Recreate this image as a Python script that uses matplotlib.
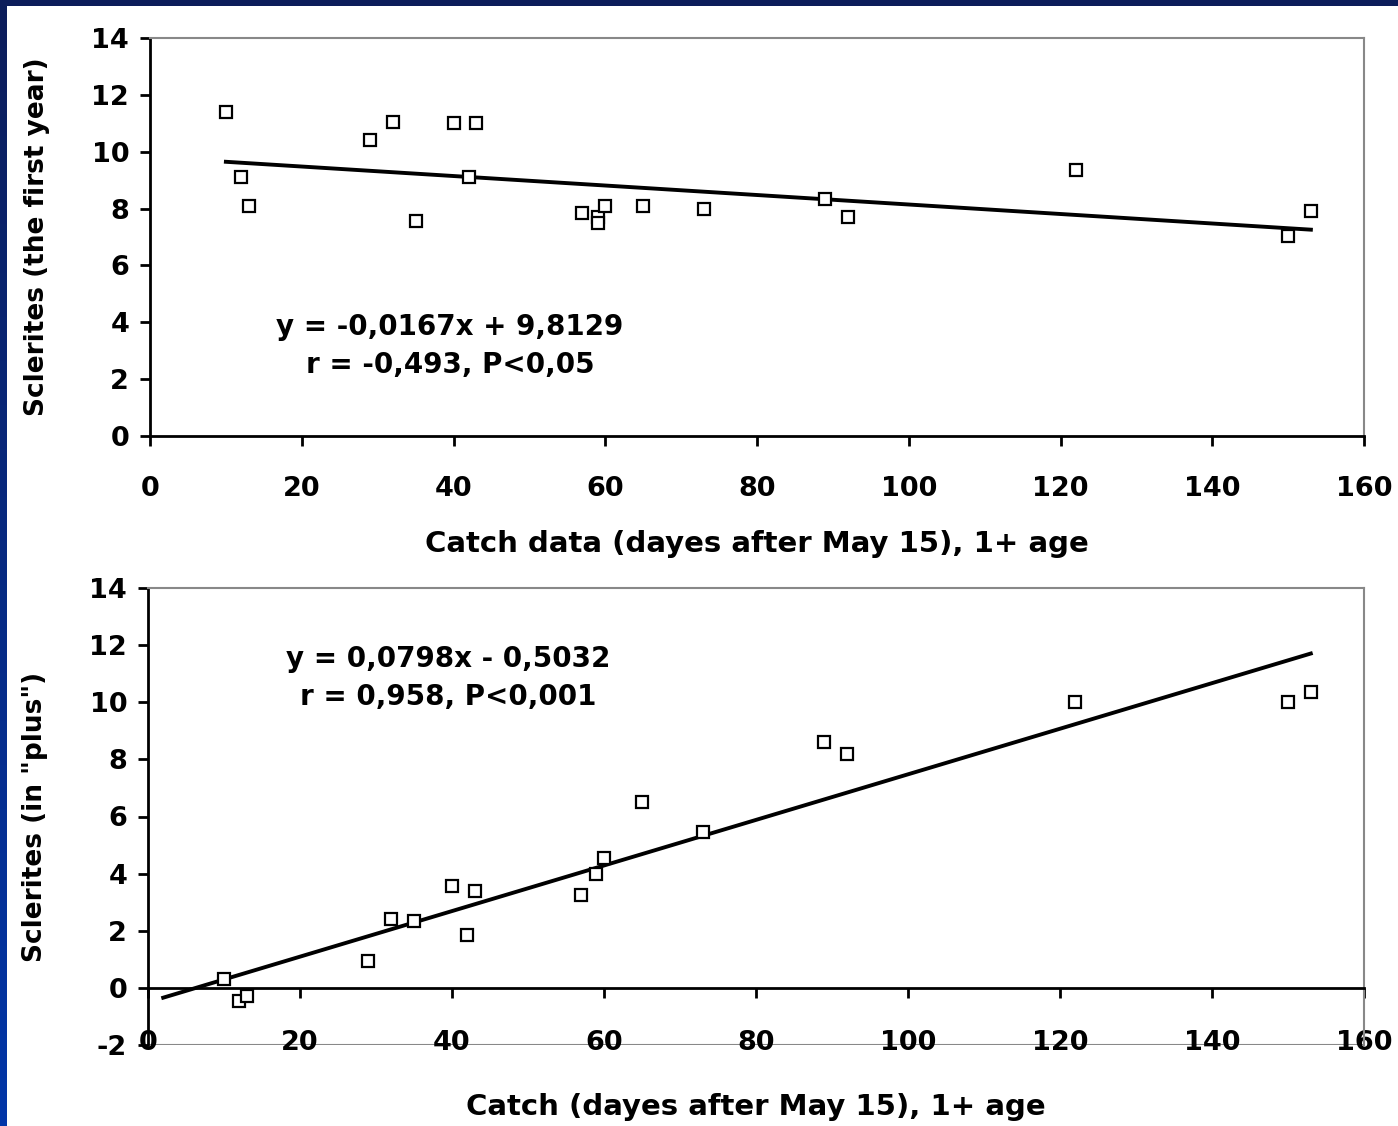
import matplotlib.pyplot as plt
import numpy as np
from matplotlib.colors import LinearSegmentedColormap

# catch day (days after May 15) and sclerite counts
days_top = [10, 12, 13, 29, 32, 35, 40, 42, 43, 57, 59, 59, 60, 65, 73, 89, 92, 122, 150, 153]
scl_first = [11.4, 9.1, 8.1, 10.4, 11.05, 7.55, 11.0, 9.1, 11.0, 7.85, 7.7, 7.5, 8.1, 8.1, 8.0, 8.35, 7.7, 9.35, 7.05, 7.9]

days_bot = [10, 12, 13, 29, 32, 35, 40, 42, 43, 57, 59, 60, 65, 73, 89, 92, 122, 150, 153]
scl_plus = [0.3, -0.45, -0.3, 0.95, 2.4, 2.35, 3.55, 1.85, 3.4, 3.25, 4.0, 4.55, 6.5, 5.45, 8.6, 8.2, 10.0, 10.0, 10.35]

# trend lines from the equations on the slide
fit_top = (-0.0167, 9.8129)
fit_bot = (0.0798, -0.5032)
fit_top_x = [10, 153]
fit_bot_x = [2, 153]

xticks = [0, 20, 40, 60, 80, 100, 120, 140, 160]

plt.rcParams['font.family'] = ['DejaVu Sans']
plt.rcParams['axes.unicode_minus'] = False

fig = plt.figure(figsize=(13.98, 11.26), dpi=100)
fig.patch.set_facecolor('white')

# blue slide frame on the left and top
grad = np.linspace(0, 1, 256).reshape(-1, 1)
frame_cmap = LinearSegmentedColormap.from_list('frame', ['#0c1d5a', '#0236a8'])
axl = fig.add_axes([0, 0, 7 / 1398, 1])
axl.imshow(grad, aspect='auto', cmap=frame_cmap, extent=[0, 1, 0, 1])
axl.axis('off')
axt = fig.add_axes([0, 1 - 6 / 1126, 1, 6 / 1126])
axt.set_facecolor('#0c1d5a')
axt.set_xticks([]); axt.set_yticks([])
for s in axt.spines.values():
    s.set_visible(False)

TICK_FS = 19.5
YLABEL_FS = 19
XLABEL_FS = 21
EQ_FS = 20


def style(ax, yticks):
    ax.set_xlim(0, 160)
    ax.set_xticks(xticks)
    ax.set_xticklabels([str(t) for t in xticks], fontsize=TICK_FS, fontweight='bold')
    ax.set_yticks(yticks)
    ax.set_yticklabels([str(t) for t in yticks], fontsize=TICK_FS, fontweight='bold')
    ax.spines['left'].set_color('black')
    ax.spines['left'].set_linewidth(2)
    ax.spines['bottom'].set_color('black')
    ax.spines['bottom'].set_linewidth(2)
    ax.spines['top'].set_color('#888888')
    ax.spines['right'].set_color('#888888')
    ax.spines['top'].set_linewidth(1.5)
    ax.spines['right'].set_linewidth(1.5)
    ax.tick_params(direction='out', length=7, width=2, color='black')
    ax.tick_params(axis='y', pad=8)


# top panel
ax1 = fig.add_axes([150 / 1398, 1 - 436 / 1126, 1214 / 1398, 398 / 1126])
ax1.plot(days_top, scl_first, 's', mfc='white', mec='black', ms=8.5, mew=1.6, zorder=3)
xs = np.array(fit_top_x)
ax1.plot(xs, fit_top[0] * xs + fit_top[1], color='black', lw=2.8, zorder=2)
ax1.set_ylim(0, 14)
style(ax1, list(range(0, 15, 2)))
ax1.tick_params(axis='x', pad=22)
ax1.set_ylabel('Sclerites (the first year)', labelpad=30, fontsize=YLABEL_FS, fontweight='bold')
ax1.set_xlabel('Catch data (dayes after May 15), 1+ age', labelpad=20, fontsize=XLABEL_FS, fontweight='bold')
ax1.text(0.247, 0.226, 'y = -0,0167x + 9,8129\nr = -0,493, P<0,05', transform=ax1.transAxes,
         ha='center', va='center', fontsize=EQ_FS, fontweight='bold', linespacing=1.45)

# bottom panel
ax2 = fig.add_axes([148 / 1398, 1 - 1045 / 1126, 1216 / 1398, 457 / 1126])
ax2.plot(days_bot, scl_plus, 's', mfc='white', mec='black', ms=8.5, mew=1.6, zorder=3, clip_on=False)
xs = np.array(fit_bot_x)
ax2.plot(xs, fit_bot[0] * xs + fit_bot[1], color='black', lw=2.8, zorder=2)
ax2.set_ylim(-2, 14)
ax2.spines['bottom'].set_position(('data', 0))
style(ax2, list(range(-2, 15, 2)))
ax2.axhline(-2, color='#888888', lw=1.5, zorder=1)
ax2.tick_params(axis='x', pad=23)
ax2.set_ylabel('Sclerites (in "plus")', labelpad=30, fontsize=YLABEL_FS, fontweight='bold')
ax2.set_xlabel('Catch (dayes after May 15), 1+ age', labelpad=27, fontsize=XLABEL_FS, fontweight='bold')
ax2.text(0.247, 0.803, 'y = 0,0798x - 0,5032\nr = 0,958, P<0,001', transform=ax2.transAxes,
         ha='center', va='center', fontsize=EQ_FS, fontweight='bold', linespacing=1.45)

fig.savefig('out.png', dpi=100)
